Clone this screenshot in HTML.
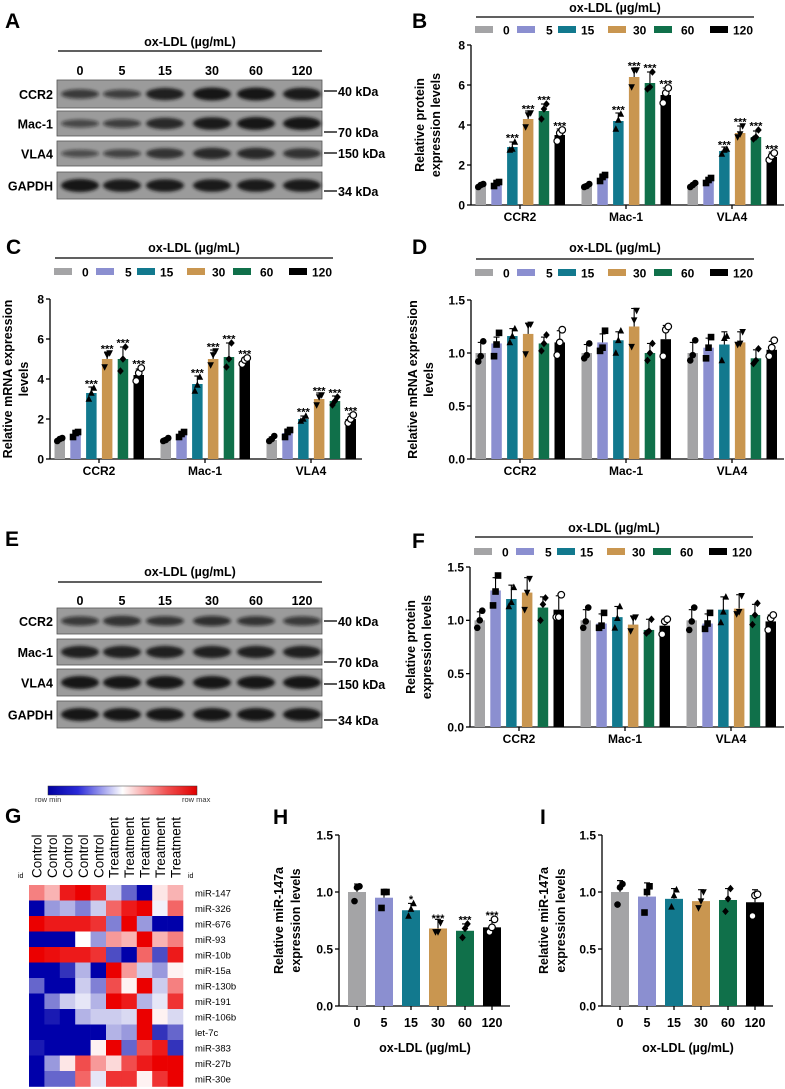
<!DOCTYPE html>
<html><head><meta charset="utf-8"><style>
html,body{margin:0;padding:0;background:#fff;}
svg{display:block;font-family:"Liberation Sans",Arial,sans-serif;}
</style></head><body>
<svg id="fig" width="785" height="1089" viewBox="0 0 785 1089" xmlns="http://www.w3.org/2000/svg">
<defs>
<filter id="blur" x="-30%" y="-80%" width="160%" height="260%"><feGaussianBlur stdDeviation="1.6"/></filter>
</defs>
</svg>
<script>
// ---------- DATA ----------
const doses = ["0","5","15","30","60","120"];
const genes = ["CCR2","Mac-1","VLA4"];
const doseColors = ["#a4a4a6","#8b8fd0","#12798e","#c99650","#10704a","#000000"];

const bMeans = [[0.95,1.05,2.9,4.3,4.7,3.5],[0.95,1.35,4.2,6.4,6.1,5.5],[0.95,1.2,2.7,3.6,3.4,2.4]];
const bErr = [[0.1,0.12,0.25,0.4,0.35,0.3],[0.1,0.2,0.4,0.45,0.55,0.35],[0.1,0.15,0.2,0.35,0.3,0.25]];
const bPts = [[[0.9,1.0,1.05],[0.95,1.1,1.15],[2.75,2.8,3.15],[3.9,4.5,4.6],[4.3,4.8,5.05],[3.2,3.6,3.75]],
 [[0.9,0.95,1.05],[1.2,1.4,1.5],[3.8,4.25,4.55],[5.9,6.7,6.75],[5.8,5.9,6.65],[5.1,5.6,5.85]],
 [[0.9,1.0,1.1],[1.1,1.25,1.35],[2.55,2.75,2.8],[3.4,3.55,3.95],[3.3,3.4,3.75],[2.25,2.45,2.6]]];
const cMeans = [[0.95,1.2,3.3,5.0,5.0,4.2],[0.95,1.2,3.75,5.0,5.1,4.9],[0.95,1.3,2.0,3.0,2.9,2.0]];
const cErr = [[0.1,0.15,0.3,0.35,0.6,0.3],[0.1,0.15,0.4,0.45,0.7,0.15],[0.15,0.2,0.15,0.3,0.25,0.25]];
const cPts = [[[0.9,1.0,1.05],[1.1,1.3,1.35],[3.0,3.3,3.55],[4.6,5.2,5.3],[4.4,5.0,5.6],[3.9,4.3,4.55]],
 [[0.9,0.95,1.05],[1.1,1.25,1.35],[3.4,3.7,4.1],[4.7,5.2,5.4],[4.6,5.0,5.8],[4.75,4.95,5.05]],
 [[0.9,1.0,1.15],[1.1,1.35,1.45],[1.9,2.0,2.15],[2.7,3.1,3.2],[2.7,2.9,3.1],[1.8,2.0,2.2]]];
const dMeans = [[1.0,1.09,1.16,1.18,1.09,1.10],[1.0,1.10,1.12,1.25,1.0,1.13],[1.0,1.05,1.08,1.10,0.95,1.03]];
const dErr = [[0.1,0.06,0.07,0.1,0.06,0.11],[0.08,0.08,0.08,0.17,0.09,0.13],[0.1,0.09,0.12,0.1,0.08,0.08]];
const dPts = [[[0.92,0.97,1.11],[0.97,1.08,1.19],[1.10,1.16,1.23],[0.99,1.26,1.27],[1.02,1.09,1.17],[0.98,1.10,1.22]],
 [[0.95,0.98,1.09],[1.02,1.05,1.21],[1.00,1.12,1.21],[1.06,1.31,1.40],[0.93,1.00,1.09],[0.97,1.22,1.25]],
 [[0.93,0.98,1.12],[0.95,1.05,1.15],[0.93,1.14,1.16],[1.08,1.09,1.20],[0.90,0.93,1.04],[0.97,1.05,1.12]]];
const fMeans = [[1.0,1.28,1.2,1.26,1.12,1.10],[1.0,0.97,1.03,0.96,0.91,0.95],[1.0,0.97,1.1,1.11,1.05,0.99]];
const fErr = [[0.08,0.12,0.13,0.14,0.1,0.13],[0.1,0.09,0.1,0.08,0.1,0.06],[0.1,0.09,0.12,0.13,0.1,0.06]];
const fPts = [[[0.93,1.00,1.09],[1.14,1.27,1.42],[1.13,1.17,1.31],[1.10,1.26,1.39],[1.00,1.15,1.21],[1.03,1.03,1.24]],
 [[0.93,0.99,1.12],[0.93,0.95,1.07],[0.93,1.02,1.13],[0.90,1.02,1.03],[0.88,0.90,1.01],[0.87,0.99,1.01]],
 [[0.91,0.99,1.12],[0.92,0.97,1.07],[0.98,1.08,1.22],[1.06,1.08,1.23],[0.96,1.05,1.16],[0.91,1.02,1.05]]];
const hMeans = [1.0,0.95,0.84,0.68,0.66,0.69];
const hErr = [0.07,0.06,0.06,0.08,0.06,0.06];
const hPts = [[0.92,1.04,1.05],[0.86,1.0,1.0],[0.79,0.85,0.90],[0.65,0.65,0.73],[0.6,0.68,0.72],[0.65,0.69,0.76]];
const hStars = ["","","*","***","***","***"];
const iMeans = [1.0,0.96,0.94,0.92,0.93,0.91];
const iErr = [0.1,0.12,0.09,0.1,0.1,0.11];
const iPts = [[0.89,1.04,1.07],[0.82,1.0,1.05],[0.87,0.97,1.02],[0.86,0.92,1.0],[0.83,0.94,1.03],[0.79,0.97,0.98]];
const ticks8 = [0,2,4,6,8];
const ticks15 = [0,0.5,1.0,1.5];
const ticks15Labels = ["0.0","0.5","1.0","1.5"];

const hmRows = ["miR-147","miR-326","miR-676","miR-93","miR-10b","miR-15a","miR-130b","miR-191","miR-106b","let-7c","miR-383","miR-27b","miR-30e"];
const hmCols = ["Control","Control","Control","Control","Control","Treatment","Treatment","Treatment","Treatment","Treatment"];
const hmVals = [
[0.5,0.3,0.9,1,0.8,-0.2,-0.6,-1,0.1,0.3],
[-1,-0.4,-0.3,-0.5,-0.2,0.6,0.9,1,-0.05,0.6],
[1,0.9,0.9,0.9,0.8,-0.5,1,-0.4,-1,-1],
[-1,-1,-1,0.0,-0.4,0.4,0.3,1,0.3,0.5],
[1,0.95,0.9,0.9,0.8,-0.7,-1,0.6,-0.7,0.9],
[-1,-1,-0.8,-0.3,-1,1,0.4,-0.2,-0.4,0.05],
[-0.6,-1,-1,-0.2,-0.5,0.7,0.05,1,-0.2,0.5],
[-1,-0.5,-0.2,-0.1,-0.3,1,0.9,-0.3,-0.1,0.8],
[-1,-0.9,-1,-0.3,-0.2,-0.2,-0.15,1,0.05,-0.15],
[-1,-1,-1,-1,-1,-0.3,-0.4,1,-0.8,-0.6],
[-0.9,-1,-1,-1,0.05,1,-0.6,0.7,0.9,-0.8],
[-1,-0.4,0.1,0.7,0.4,0.15,0.7,0.9,1,1],
[-1,-0.6,-0.6,0.6,-0.1,0.8,0.8,0.05,0.8,1]];

const blotALanes = [[0.55,0.5,0.9,1,1,0.95],[0.4,0.5,0.8,0.95,1,1],[0.35,0.45,0.7,0.8,0.8,0.7],[1,0.95,0.95,0.95,0.95,0.95]];
const blotELanes = [[0.55,0.7,0.6,0.65,0.6,0.55],[0.9,0.9,0.9,0.9,0.9,0.9],[1,1,1,1,1,1],[1,1,1,1,1,1]];

// ---------- helpers ----------
const NS="http://www.w3.org/2000/svg";
const svg=document.getElementById('fig');
function mk(tag,attrs,parent,text){const e=document.createElementNS(NS,tag);for(const k in attrs)e.setAttribute(k,attrs[k]);if(text!==undefined)e.textContent=text;(parent||svg).appendChild(e);return e;}
function txt(x,y,s,size,opts,parent){opts=opts||{};const a={x:x,y:y,'font-size':size,'font-weight':opts.w||'bold',fill:opts.fill||'#000','text-anchor':opts.a||'start'};if(opts.t)a.transform=opts.t;return mk('text',a,parent,s);}

function marker(g,shape,cx,cy){
  const r=3.3;let e;
  if(shape===0){e=mk('circle',{cx:cx,cy:cy,r:r,fill:'#000'},g);}
  else if(shape===1){e=mk('rect',{x:cx-r,y:cy-r,width:2*r,height:2*r,fill:'#000'},g);}
  else if(shape===2){e=mk('polygon',{points:`${cx},${cy-r-0.5} ${cx-r},${cy+r-0.5} ${cx+r},${cy+r-0.5}`,fill:'#000'},g);}
  else if(shape===3){e=mk('polygon',{points:`${cx},${cy+r+0.5} ${cx-r},${cy-r+0.5} ${cx+r},${cy-r+0.5}`,fill:'#000'},g);}
  else if(shape===4){e=mk('polygon',{points:`${cx},${cy-r-0.5} ${cx+r},${cy} ${cx},${cy+r+0.5} ${cx-r},${cy}`,fill:'#000'},g);}
  else {e=mk('circle',{cx:cx,cy:cy,r:r,fill:'#fff',stroke:'#000','stroke-width':1.2},g);}
  
  
}

function letter(x,y,s){const t=txt(x,y,s,21);}

function legend(x0,yTitle,yLine,yLeg,name){
  const g=mk('g',{});
  txt(x0+144,yTitle,'ox-LDL (µg/mL)',12.5,{a:'middle'},g);
  mk('line',{x1:x0+5,x2:x0+283,y1:yLine,y2:yLine,stroke:'#000','stroke-width':1.3},g);
  const sw=[4,46,87,137,183,239], tx=[32,75,110,162,210,262];
  doses.forEach((d,i)=>{
    const e=mk('g',{},g);
    
    
    mk('rect',{x:x0+sw[i],y:yLeg-4,width:18,height:7,fill:doseColors[i]},e);
    txt(x0+tx[i],yLeg+4.5,d,12,{},e);
  });
}

function yaxis(g,x0,yB,yT,vmax,ticks,labels,titleLines,tx,name){
  const ys=v=>yB-(v/vmax)*(yB-yT);
  const ax=mk('g',{},g);
  mk('line',{x1:x0,x2:x0,y1:yT,y2:yB,stroke:'#000','stroke-width':1.3},ax);
  ticks.forEach((t,i)=>{mk('line',{x1:x0-4,x2:x0,y1:ys(t),y2:ys(t),stroke:'#000','stroke-width':1.3},ax);
    txt(x0-6,ys(t)+4.3,labels[i],12,{a:'end'},ax);});
  const cy=(yT+yB)/2;
  titleLines.forEach((l,i)=>{const t=txt(tx[i],cy,l,12.5,{a:'middle',t:`rotate(-90 ${tx[i]} ${cy})`},ax);
    });
  return ys;
}

function bar(g,x,w,ys,yB,mean,err,pts,ci,star){
  const b=mk('rect',{x:x,y:ys(mean),width:w,height:yB-ys(mean),fill:doseColors[ci]},g);
  
  
  const cx=x+w/2, top=ys(mean+err);
  const ec=ci===5?'#000':'#000';
  mk('line',{x1:cx,x2:cx,y1:ys(mean),y2:top,stroke:ec,'stroke-width':1.1},g);
  mk('line',{x1:cx-3,x2:cx+3,y1:top,y2:top,stroke:ec,'stroke-width':1.1},g);
  const offs=[-2.5,0,2.5];
  pts.forEach((p,k)=>marker(g,ci,cx+offs[k],ys(p)));
  if(star){const hi=Math.min(top,ys(Math.max(...pts))-3);
    const s=txt(cx,hi-1.5+ (star==='*'?4:4),star,11,{a:'middle'},g);
    }
}

function grouped(cfg){
  const g=mk('g',{});
  const ys=yaxis(g,cfg.x0,cfg.yB,cfg.yT,cfg.vmax,cfg.ticks,cfg.labels,cfg.title,cfg.tx);
  const xa=mk('g',{},g);
  mk('line',{x1:cfg.x0,x2:cfg.xEnd,y1:cfg.yB,y2:cfg.yB,stroke:'#000','stroke-width':1.3},xa);
  genes.forEach((gn,gi)=>{
    const gx=cfg.x0+4.5+gi*106;
    const c=gx+44.5;
    mk('line',{x1:c,x2:c,y1:cfg.yB,y2:cfg.yB+4,stroke:'#000','stroke-width':1.3},xa);
    const t=txt(c,cfg.yB+16,gn,12,{a:'middle'},xa);
    
    doses.forEach((d,i)=>{
      bar(g,gx+i*15.8,10.5,ys,cfg.yB,cfg.means[gi][i],cfg.err[gi][i],cfg.pts[gi][i],i,cfg.stars&&i>=2?'***':'');
    });
  });
}

function simple(cfg){
  const g=mk('g',{});
  const ys=yaxis(g,cfg.x0,cfg.yB,cfg.yT,1.5,ticks15,ticks15Labels,["Relative miR-147a","expression levels"],cfg.tx);
  const xa=mk('g',{},g);
  mk('line',{x1:cfg.x0,x2:cfg.x0+171,y1:cfg.yB,y2:cfg.yB,stroke:'#000','stroke-width':1.3},xa);
  doses.forEach((d,i)=>{
    const x=cfg.x0+9+i*27, c=x+9;
    mk('line',{x1:c,x2:c,y1:cfg.yB,y2:cfg.yB+4,stroke:'#000','stroke-width':1.3},xa);
    txt(c,cfg.yB+21,d,12.5,{a:'middle'},xa);
    bar(g,x,18,ys,cfg.yB,cfg.means[i],cfg.err[i],cfg.pts[i],i,cfg.stars?cfg.stars[i]:'');
  });
  const t=txt(cfg.x0+86,cfg.yB+46,'ox-LDL (µg/mL)',12.5,{a:'middle'},xa);
  
}

function blot(cfg){
  const g=mk('g',{});
  txt(190,cfg.title,'ox-LDL (µg/mL)',12.5,{a:'middle'},g);
  mk('line',{x1:58,x2:322,y1:cfg.line,y2:cfg.line,stroke:'#000','stroke-width':1.2},g);
  const lanes=[80,122,165,212,256,302];
  doses.forEach((d,i)=>txt(lanes[i],cfg.nums,d,12.5,{a:'middle'},g));
  const names=["CCR2","Mac-1","VLA4","GAPDH"];
  cfg.rows.forEach((r,ri)=>{
    const rg=mk('g',{},g);
    
    
    mk('rect',{x:57,y:r[0],width:265,height:r[1]-r[0],fill:'#9b9b9b',stroke:'#555','stroke-width':0.8},rg);
    const cy=(r[0]+r[1])/2+(cfg.bandOff?cfg.bandOff[ri]:0);
    lanes.forEach((lx,li)=>{const v=cfg.lanes[ri][li];
      mk('ellipse',{cx:lx,cy:cy,rx:19,ry:2.5+4*v,fill:'#151515','fill-opacity':0.35+0.65*v,filter:'url(#blur)'},rg);});
    txt(53,(r[0]+r[1])/2+5,names[ri],12.5,{a:'end'},rg);
  });
  cfg.kda.forEach(k=>{mk('line',{x1:324,x2:337,y1:k[0],y2:k[0],stroke:'#000','stroke-width':1.3},g);txt(338,k[0]+5,k[1],12.5,{},g);});
}

// ---------- Panels ----------
letter(5,28,'A');
blot({name:'western-blot-a',title:46,line:51,nums:75,rows:[[80,108],[111,136],[141,166],[172,199]],lanes:blotALanes,bandOff:[0,0,0,0],
  kda:[[91,'40 kDa'],[132,'70 kDa'],[153,'150 kDa'],[191,'34 kDa']]});
letter(5,546,'E');
blot({name:'western-blot-e',title:576,line:582,nums:605,rows:[[608,634],[639,665],[669,696],[701,728]],lanes:blotELanes,
  kda:[[621,'40 kDa'],[662,'70 kDa'],[684,'150 kDa'],[720,'34 kDa']]});

letter(412,28,'B');
legend(471,12,17,30,'legend-b');
grouped({name:'chart-b-protein',x0:471,xEnd:784,yB:205,yT:45,vmax:8,ticks:ticks8,labels:ticks8.map(String),title:["Relative protein","expression levels"],tx:[424,440],means:bMeans,err:bErr,pts:bPts,stars:true});

letter(6,254,'C');
legend(50,252,258,272,'legend-c');
grouped({name:'chart-c-mrna',x0:50,xEnd:362,yB:459,yT:299,vmax:8,ticks:ticks8,labels:ticks8.map(String),title:["Relative mRNA expression","levels"],tx:[12,28],means:cMeans,err:cErr,pts:cPts,stars:true});

letter(412,254,'D');
legend(471,252,259,273,'legend-d');
grouped({name:'chart-d-mrna',x0:471,xEnd:784,yB:459,yT:300,vmax:1.5,ticks:ticks15,labels:ticks15Labels,title:["Relative mRNA expression","levels"],tx:[417,433],means:dMeans,err:dErr,pts:dPts,stars:false});

letter(412,548,'F');
legend(470,532,537,552,'legend-f');
grouped({name:'chart-f-protein',x0:470,xEnd:784,yB:727,yT:567,vmax:1.5,ticks:ticks15,labels:ticks15Labels,title:["Relative protein","expression levels"],tx:[415,431],means:fMeans,err:fErr,pts:fPts,stars:false});

// Heatmap
letter(5,823,'G');
(function(){
  const g=mk('g',{});
  const grad=mk('linearGradient',{id:'hmgrad',x1:0,x2:1,y1:0,y2:0},svg.querySelector('defs'));
  [['0','#0000a0'],['0.2','#2a2ad8'],['0.5','#ffffff'],['0.8','#f05050'],['1','#e00000']].forEach(s=>mk('stop',{offset:s[0],'stop-color':s[1]},grad));
  const cb=mk('rect',{x:48,y:786,width:149,height:9,fill:'url(#hmgrad)',stroke:'#333','stroke-width':0.5},g);
  
  txt(35,802,'row min',7.5,{w:'normal',fill:'#333'},g);
  txt(182,802,'row max',7.5,{w:'normal',fill:'#333'},g);
  const x0=29, cw=15.4, y0=885, rh=15.5;
  function col(v){
    const lerp=(a,b,t)=>Math.round(a+(b-a)*t);
    if(v<0){const t=-v;return `rgb(${lerp(255,0,t)},${lerp(255,0,t)},${lerp(255,170,t)})`;}
    const t=v;return `rgb(${lerp(255,235,t)},${lerp(255,0,t)},${lerp(255,0,t)})`;
  }
  txt(18,878,'id',7,{w:'normal'},g);
  txt(188,878,'id',7,{w:'normal'},g);
  hmCols.forEach((c,ci)=>{const cx=x0+ci*cw+cw/2+5;
    const t=txt(cx,878,c,13.5,{w:'normal',t:`rotate(-90 ${cx} 878)`},g);
    });
  hmRows.forEach((r,ri)=>{
    hmVals[ri].forEach((v,ci)=>{
      const c=mk('rect',{x:x0+ci*cw,y:y0+ri*rh,width:cw+0.3,height:rh+0.3,fill:col(v)},g);
      
      
    });
    const t=txt(195,y0+ri*rh+rh/2+3.5,r,9.5,{w:'normal'},g);
    
  });
})();

letter(273,824,'H');
simple({name:'chart-h-mir147a',x0:339,yB:1006,yT:835,tx:[283,300],means:hMeans,err:hErr,pts:hPts,stars:hStars});
letter(540,824,'I');
simple({name:'chart-i-mir147a',x0:602,yB:1006,yT:835,tx:[548,565],means:iMeans,err:iErr,pts:iPts,stars:null});
</script>
</body></html>
